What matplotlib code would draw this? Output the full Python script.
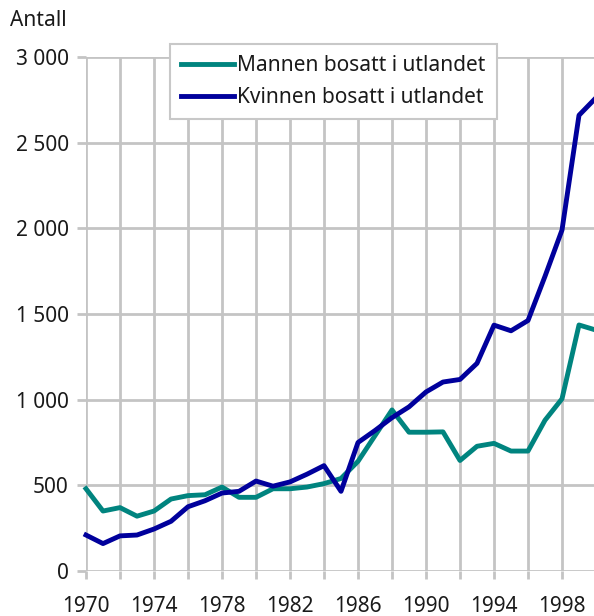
import matplotlib
matplotlib.use('Agg')
import matplotlib.pyplot as plt

years = list(range(1970, 2001))
mannen = [480, 350, 370, 320, 350, 420, 440, 445, 490, 430,
          430, 480, 480, 490, 510, 540, 640, 790, 940, 810,
          810, 812, 645, 728, 745, 700, 700, 880, 1005, 1436,
          1406]
kvinnen = [210, 160, 205, 210, 245, 290, 375, 410, 455, 465,
           525, 495, 520, 565, 615, 465, 750, 820, 895, 958,
           1045, 1103, 1118, 1212, 1435, 1402, 1462, 1720, 1990, 2660,
           2762]
xticks = list(range(1970, 2000, 4))
gridyears = list(range(1970, 2001, 2))
yticks = [0, 500, 1000, 1500, 2000, 2500, 3000]
ylabels = ['0', '500', '1 000', '1 500', '2 000', '2 500', '3 000']

plt.rcParams['font.family'] = ['Noto Sans', 'DejaVu Sans']
grid = '#c4c4c4'
fs = 15

fig = plt.figure(figsize=(5.94, 6.16), dpi=100)
ax = fig.add_axes([86 / 594, 45 / 616, 510 / 594, 514 / 616])

ax.plot(years, mannen, color='#00847f', lw=3.5, label='Mannen bosatt i utlandet',
        clip_on=False, zorder=3)
ax.plot(years, kvinnen, color='#00009c', lw=3.5, label='Kvinnen bosatt i utlandet',
        clip_on=False, zorder=3)

ax.set_xlim(1970, 2000)
ax.set_ylim(0, 3000)
ax.set_xticks(gridyears, minor=True)
ax.set_xticks(xticks)
ax.set_xticklabels([str(y) for y in xticks])
ax.set_yticks(yticks)
ax.set_yticklabels(ylabels)

ax.grid(True, which='both', axis='x', color=grid, lw=2)
ax.grid(True, which='major', axis='y', color=grid, lw=2)
ax.set_axisbelow(True)
for s in ax.spines.values():
    s.set_visible(False)
ax.tick_params(axis='both', which='both', color=grid, width=2, length=6,
               labelsize=fs, labelcolor='#1a1a1a')
ax.tick_params(axis='y', pad=6, length=6.5)
ax.tick_params(axis='x', which='both', pad=12)

fig.text(10 / 594, 1 - 20 / 616, 'Antall', fontsize=fs, color='#1a1a1a',
         va='center', ha='left')

leg = ax.legend(loc='upper left', bbox_to_anchor=((170 - 86) / 510, 1 + 13 / 514),
                fontsize=fs, frameon=True, fancybox=False, handlelength=2.5,
                handletextpad=0.15, borderpad=0.55, labelspacing=0.5,
                borderaxespad=0)
leg.get_frame().set_edgecolor('#c8c8c8')
leg.get_frame().set_linewidth(1.5)
leg.get_frame().set_alpha(1)
for t in leg.get_texts():
    t.set_color('#1a1a1a')

fig.savefig('out.png', dpi=100)
